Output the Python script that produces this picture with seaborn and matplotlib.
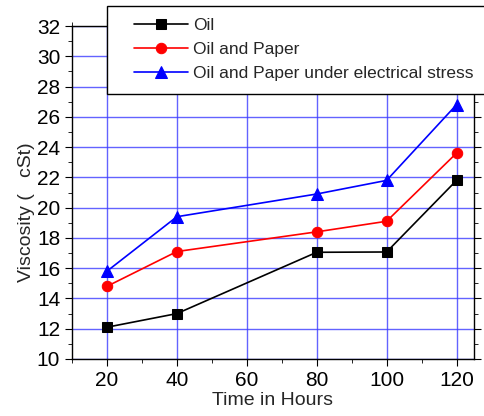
import matplotlib
matplotlib.use("Agg")
import matplotlib.pyplot as plt
from matplotlib.ticker import MultipleLocator
from matplotlib.patches import Rectangle
import seaborn as sns
import pandas as pd

hours = [20, 40, 80, 100, 120]
oil = [12.1, 13.0, 17.05, 17.07, 21.8]
oil_paper = [14.8, 17.1, 18.4, 19.1, 23.6]
oil_paper_stress = [15.8, 19.4, 20.9, 21.8, 26.8]
series_names = ["Oil", "Oil and Paper", "Oil and Paper under electrical stress"]

df = pd.concat([
    pd.DataFrame({"Time": hours, "Viscosity": oil, "Series": series_names[0]}),
    pd.DataFrame({"Time": hours, "Viscosity": oil_paper, "Series": series_names[1]}),
    pd.DataFrame({"Time": hours, "Viscosity": oil_paper_stress, "Series": series_names[2]}),
])

sns.set_style("ticks")
plt.rcParams['font.family'] = ['Liberation Sans', 'DejaVu Sans']

fig = plt.figure(figsize=(4.85, 4.16), dpi=100)
ax = fig.add_axes([72/485, 57/416, 402/485, 333/416])

palette = {series_names[0]: "black", series_names[1]: "red", series_names[2]: "blue"}
markers = {series_names[0]: "s", series_names[1]: "o", series_names[2]: "^"}
sizes_map = {series_names[0]: 6.5, series_names[1]: 7.5, series_names[2]: 8}

for name in series_names:
    sub = df[df["Series"] == name]
    sns.lineplot(data=sub, x="Time", y="Viscosity", color=palette[name], marker=markers[name],
                 markersize=sizes_map[name], markeredgecolor=palette[name], linewidth=1.2,
                 label=name, ax=ax, zorder=3)

ax.set_xlim(10, 125)
ax.set_ylim(10, 32)
ax.xaxis.set_major_locator(MultipleLocator(20))
ax.xaxis.set_minor_locator(MultipleLocator(10))
ax.yaxis.set_major_locator(MultipleLocator(2))
ax.yaxis.set_minor_locator(MultipleLocator(1))
ax.set_xticks([20, 40, 60, 80, 100, 120])
ax.grid(True, which="major", color="#3c3cff", linewidth=1.0, alpha=0.8, zorder=0)
ax.set_axisbelow(True)
for s in ax.spines.values():
    s.set_linewidth(1.0)
    s.set_color("black")
ax.tick_params(which="both", direction="out", top=True, right=True, labelsize=15, colors="black")
ax.tick_params(which="major", length=5)
ax.tick_params(which="minor", length=3)
ax.set_xlabel("Time in Hours", fontsize=14)
ax.set_ylabel("Viscosity (   cSt)", fontsize=14)
ax.xaxis.set_label_coords(0.5, -0.100)
ax.yaxis.set_label_coords(-0.092, 0.44)

handles, labels = ax.get_legend_handles_labels()
ax.get_legend().remove()

rect = Rectangle((107/485, 1 - 94/416), (492 - 107)/485, 88/416, transform=fig.transFigure,
                 facecolor="white", edgecolor="black", linewidth=1.0, zorder=3)
fig.add_artist(rect)

leg = fig.legend(handles, labels, loc="upper left", bbox_to_anchor=(134/485, 1 - 17.5/416),
                 bbox_transform=fig.transFigure, fontsize=12.5, frameon=False,
                 handlelength=3.1, borderpad=0, labelspacing=0.53, handletextpad=0.3,
                 borderaxespad=0)
leg.set_zorder(5)

fig.savefig("out.png", dpi=100)
